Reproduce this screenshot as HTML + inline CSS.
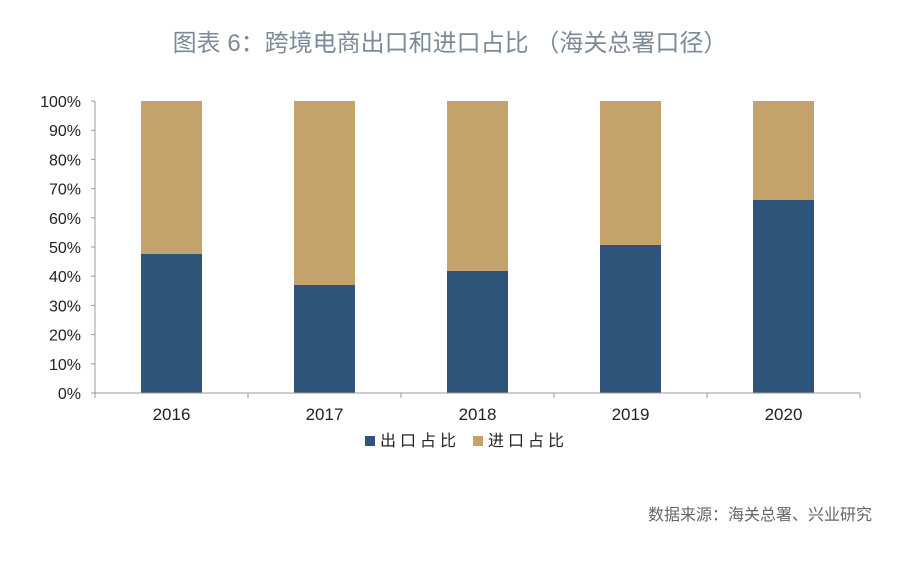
<!DOCTYPE html>
<html><head><meta charset="utf-8"><style>
body{margin:0;background:#fff;width:900px;height:569px;overflow:hidden;font-family:"Liberation Sans","Noto Sans CJK SC",sans-serif}
</style></head><body>
<svg width="900" height="569" xmlns="http://www.w3.org/2000/svg">
<text x="450" y="51" text-anchor="middle" font-size="24" fill="#7d8a99" font-family="Liberation Sans, Noto Sans CJK SC, sans-serif">图表 6：跨境电商出口和进口占比 （海关总署口径）</text>
<g id="plot"></g>
<g>
<rect x="365" y="436" width="10" height="10" fill="#2e5579"/>
<text x="380" y="446" font-size="16" fill="#222" letter-spacing="4">出口占比</text>
<rect x="473" y="436" width="10" height="10" fill="#c4a26c"/>
<text x="488" y="446" font-size="16" fill="#222" letter-spacing="4">进口占比</text>
</g>
<text x="872" y="520" text-anchor="end" font-size="16" fill="#666">数据来源：海关总署、兴业研究</text>
</svg>
<script>
const categories=["2016","2017","2018","2019","2020"];
const exportShare=[47.6,37.0,41.8,50.7,66.1];
const yTicks=[0,10,20,30,40,50,60,70,80,90,100];
const NS="http://www.w3.org/2000/svg";
const g=document.getElementById('plot');
const x0=95,x1=860,y0=393,y1=101;
const bw=(x1-x0)/categories.length;
const yS=v=>y0-(v/100)*(y0-y1);
function mk(t,a){const e=document.createElementNS(NS,t);for(const k in a)e.setAttribute(k,a[k]);g.appendChild(e);return e;}
yTicks.forEach(t=>{const y=yS(t);
const tk=mk('line',{x1:x0-4,x2:x0,y1:y,y2:y,stroke:'#999'});


const tx=mk('text',{x:x0-14,y:y+6,'text-anchor':'end','font-size':16,fill:'#222'});tx.textContent=t+'%';


});
categories.forEach((c,i)=>{const cx=x0+bw*(i+0.5),w=61;const v=exportShare[i];
const b1=mk('rect',{x:cx-w/2,y:yS(v),width:w,height:y0-yS(v),fill:'#2e5579'});


const b2=mk('rect',{x:cx-w/2,y:yS(100),width:w,height:yS(v)-yS(100),fill:'#c4a26c'});


const tx=mk('text',{x:cx,y:420,'text-anchor':'middle','font-size':17,fill:'#222'});tx.textContent=c;


});
for(let i=0;i<=categories.length;i++){const x=x0+bw*i;
const t=mk('line',{x1:x,x2:x,y1:y0,y2:y0+5,stroke:'#999'});

}
const ya=mk('line',{x1:x0,x2:x0,y1:y1,y2:y0,stroke:'#999'});


const xa=mk('line',{x1:x0,x2:x1,y1:y0,y2:y0,stroke:'#999'});


</script>
</body></html>
